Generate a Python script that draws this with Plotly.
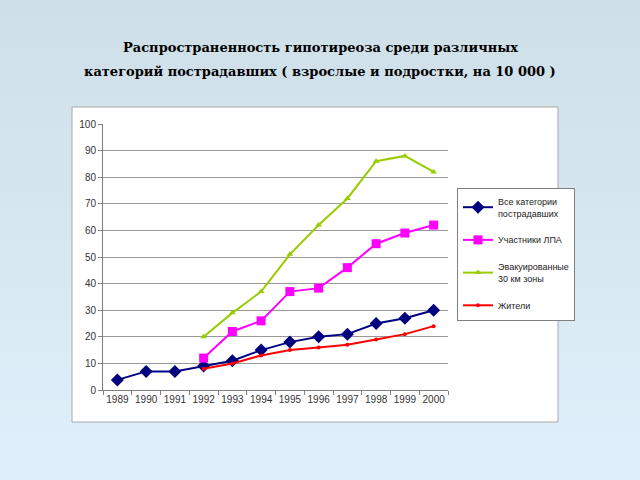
import plotly.graph_objects as go

years = ["1989", "1990", "1991", "1992", "1993", "1994", "1995", "1996", "1997", "1998", "1999", "2000"]
years_late = ["1992", "1993", "1994", "1995", "1996", "1997", "1998", "1999", "2000"]

all_cat = [3.8, 7, 7, 9, 11, 15, 18, 20, 21, 25, 27, 30]
lpa = [12, 22, 26, 37, 38.3, 46, 55, 59, 62]
evac = [20, 29, 37, 51, 62, 72, 86, 88, 82]
resid = [8, 10, 13, 15, 16, 17, 19, 21, 24]

names = ["Все категории<br>пострадавших", "Участники ЛПА", "Эвакуированные<br>30 км зоны", "Жители"]
title_lines = ["Распространенность гипотиреоза среди различных",
               "категорий пострадавших ( взрослые и подростки, на 10 000 )"]

fig = go.Figure()
fig.add_trace(go.Scatter(x=years, y=all_cat, name=names[0], mode="lines+markers", legendgroup="a",
                         line=dict(color="#000080", width=2),
                         marker=dict(symbol="diamond", size=10, color="#000080")))
fig.add_trace(go.Scatter(x=years_late, y=lpa, name=names[1], mode="lines+markers", legendgroup="b",
                         line=dict(color="#ff00ff", width=2),
                         marker=dict(symbol="square", size=9, color="#ff00ff")))
fig.add_trace(go.Scatter(x=years_late, y=evac, name=names[2], mode="lines+markers", legendgroup="c",
                         line=dict(color="#99cc00", width=2),
                         marker=dict(symbol="triangle-up", size=6, color="#99cc00")))
fig.add_trace(go.Scatter(x=years_late, y=resid, name=names[3], mode="lines+markers", legendgroup="d",
                         line=dict(color="#ff0000", width=2),
                         marker=dict(symbol="circle", size=4, color="#ff0000")))

W, H = 640, 480
L, R, T, B = 103, 192, 124, 90
pw, ph = W - L - R, H - T - B
def px(x): return (x - L) / pw
def py(y): return (H - B - y) / ph

shapes = []
n = 30
c0 = (0xcf, 0xdf, 0xe8)
c1 = (0xdf, 0xf0, 0xfc)
for i in range(n):
    t = i / (n - 1)
    c = tuple(int(round(c0[k] + (c1[k] - c0[k]) * t)) for k in range(3))
    shapes.append(dict(type="rect", xref="paper", yref="paper", layer="below",
                       x0=px(0), x1=px(W), y0=py(H * (i + 1) / n + 1), y1=py(H * i / n),
                       fillcolor="rgb(%d,%d,%d)" % c, line=dict(width=0)))
shapes.append(dict(type="rect", xref="paper", yref="paper", layer="below",
                   x0=px(72), x1=px(558), y0=py(422), y1=py(107),
                   fillcolor="white", line=dict(color="#a8a8a8", width=1)))

tick_font = dict(family="Arial, Liberation Sans, sans-serif", size=10, color="#333333")
title_font = dict(family="DejaVu Serif, serif", size=13, color="#000000")

annotations = []
for line, ypix in zip(title_lines, [48, 72]):
    annotations.append(dict(text="<b>" + line + "</b>", xref="paper", yref="paper",
                            x=px(320), y=py(ypix), xanchor="center", yanchor="middle",
                            showarrow=False, font=title_font))

fig.update_layout(
    width=W, height=H,
    margin=dict(l=L, r=R, t=T, b=B),
    paper_bgcolor="#d7e7f2", plot_bgcolor="white",
    shapes=shapes, annotations=annotations,
    showlegend=True,
    legend=dict(x=px(457), y=py(188), xanchor="left", yanchor="top",
                bgcolor="white", bordercolor="#808080", borderwidth=1,
                font=dict(family="Arial, Liberation Sans, sans-serif", size=9, color="#222222"),
                traceorder="grouped", tracegroupgap=10, itemwidth=30),
    xaxis=dict(type="category", showgrid=False, showline=True, linecolor="#808080",
               ticks="outside", tickson="boundaries", ticklen=4, tickcolor="#808080",
               tickangle=0, tickfont=tick_font, range=[-0.5, 11.5]),
    yaxis=dict(range=[0, 100], dtick=10, showgrid=True, gridcolor="#999999", gridwidth=1,
               showline=True, linecolor="#808080", ticks="outside", ticklen=4,
               tickcolor="#808080", zeroline=False, tickfont=tick_font),
)

fig.write_html("out.html")
